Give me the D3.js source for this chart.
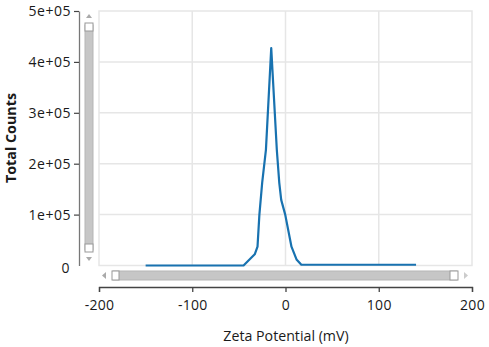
<!DOCTYPE html>
<html>
<head>
<meta charset="utf-8">
<script src="https://cdn.jsdelivr.net/npm/d3@7"></script>
<style>
  body { margin: 0; background: #fff; }
  text { font-family: "Open Sans", "Noto Sans", sans-serif; fill: #1a1a1a; }
</style>
</head>
<body>
<div id="content"></div>
<script>
// zeta potential distribution
const zeta = [-150, -45, -33, -30, -28, -25, -21, -15.3, -9.3, -6.7, -4.6, -0.3, 6.4, 11.8, 17, 140]
const counts = [0, 0, 22000, 37000, 100000, 163000, 227000, 427000, 227000, 163000, 129000, 100000, 37000, 12000, 1500, 1500]

const xTicks = [-200, -100, 0, 100, 200]
const xTickLabels = ["-200", "-100", "0", "100", "200"]
const yTicks = [0, 100000, 200000, 300000, 400000, 500000]
const yTickLabels = ["0", "1e+05", "2e+05", "3e+05", "4e+05", "5e+05"]

const data = zeta.map((z, i) => ({z: z, c: counts[i]}))

const outerWidth = 489
const outerHeight = 347

const svg = d3.select("#content").append("svg")
    .attr("width", outerWidth)
    .attr("height", outerHeight)

const xScale = d3.scaleLinear()
    .domain([-200, 200])
    .range([99, 472])
const yScale = d3.scaleLinear()
    .domain([0, 500000])
    .range([265.5, 11])

// plot box + grid
svg.append("rect")
    .attr("x", xScale(-200))
    .attr("y", yScale(500000))
    .attr("width", xScale(200) - xScale(-200))
    .attr("height", yScale(0) - yScale(500000))
    .attr("fill", "none")
    .attr("stroke", "#e6e6e6")
    .attr("stroke-width", 1.5)

svg.append("g").selectAll("line")
    .data(yTicks.slice(1, -1))
    .join("line")
    .attr("x1", xScale(-200))
    .attr("x2", xScale(200))
    .attr("y1", d => yScale(d))
    .attr("y2", d => yScale(d))
    .attr("stroke", "#e6e6e6")
    .attr("stroke-width", 1.5)

svg.append("g").selectAll("line")
    .data(xTicks.slice(1, -1))
    .join("line")
    .attr("x1", d => xScale(d))
    .attr("x2", d => xScale(d))
    .attr("y1", yScale(500000))
    .attr("y2", yScale(0))
    .attr("stroke", "#e6e6e6")
    .attr("stroke-width", 1.5)

// the curve
const line = d3.line()
    .x(d => xScale(d.z))
    .y(d => yScale(d.c))

svg.append("path")
    .datum(data)
    .attr("d", line)
    .attr("fill", "none")
    .attr("stroke", "#1872b0")
    .attr("stroke-width", 2.2)
    .attr("stroke-linejoin", "round")

// y axis (drawn left of the scrollbar)
const yAxis = d3.axisLeft(yScale)
    .tickValues(yTicks)
    .tickFormat((d, i) => yTickLabels[i])
    .tickSize(5)
    .tickSizeOuter(0)
    .tickPadding(3)
const yG = svg.append("g")
    .attr("transform", "translate(79, 0)")
    .call(yAxis)
yG.select(".domain").attr("stroke", "#777").attr("stroke-width", 1.3)
yG.selectAll(".tick line").attr("stroke", "#444").attr("stroke-width", 1.2)
    .attr("opacity", d => d === 0 ? 0 : 1)
yG.selectAll(".tick text")
    .style("font-size", "14px")
    .style("letter-spacing", "0.5px")
    .attr("fill", "#1a1a1a")
yG.selectAll(".tick text")
    .filter(d => d === 0)
    .attr("x", -9)
    .attr("dy", "0.5em")

// x axis (below the scrollbar)
const xAxis = d3.axisBottom(xScale)
    .tickValues(xTicks)
    .tickFormat((d, i) => xTickLabels[i])
    .tickSize(5)
    .tickPadding(8)
const xG = svg.append("g")
    .attr("transform", "translate(0, 287)")
    .call(xAxis)
xG.select(".domain").attr("stroke", "#444").attr("stroke-width", 1.3)
xG.selectAll(".tick line").attr("stroke", "#444").attr("stroke-width", 1.3)
xG.selectAll(".tick text")
    .style("font-size", "14px")
    .style("letter-spacing", "0.3px")
    .attr("fill", "#1a1a1a")

// vertical scrollbar
const vs = svg.append("g").attr("class", "vscroll")
vs.append("rect")
    .attr("x", 85).attr("y", 25).attr("width", 8).attr("height", 225)
    .attr("fill", "#c6c6c6").attr("stroke", "#b5b5b5")
vs.append("rect")
    .attr("x", 85).attr("y", 23).attr("width", 8).attr("height", 8)
    .attr("fill", "#fff").attr("stroke", "#999")
vs.append("rect")
    .attr("x", 85).attr("y", 244).attr("width", 8).attr("height", 8)
    .attr("fill", "#fff").attr("stroke", "#999")
vs.append("path")
    .attr("d", "M86,18 L89,14 L92,18 Z")
    .attr("fill", "#aaa")
vs.append("path")
    .attr("d", "M86,257 L89,261 L92,257 Z")
    .attr("fill", "#aaa")

// horizontal scrollbar
const hs = svg.append("g").attr("class", "hscroll")
hs.append("rect")
    .attr("x", 113).attr("y", 271).attr("width", 344).attr("height", 9)
    .attr("fill", "#c6c6c6").attr("stroke", "#b5b5b5")
hs.append("rect")
    .attr("x", 112).attr("y", 271).attr("width", 7).attr("height", 9)
    .attr("fill", "#fff").attr("stroke", "#999")
hs.append("rect")
    .attr("x", 450).attr("y", 271).attr("width", 8).attr("height", 9)
    .attr("fill", "#fff").attr("stroke", "#999")
hs.append("path")
    .attr("d", "M106,272 L102,275.5 L106,279 Z")
    .attr("fill", "#aaa")
hs.append("path")
    .attr("d", "M464,272 L468,275.5 L464,279 Z")
    .attr("fill", "#ccc")

// axis titles
svg.append("text")
    .attr("x", 286)
    .attr("y", 341)
    .style("text-anchor", "middle")
    .style("font-size", "14.2px")
    .text("Zeta Potential (mV)")

svg.append("text")
    .attr("transform", "rotate(-90)")
    .attr("x", -138)
    .attr("y", 16)
    .style("text-anchor", "middle")
    .style("font-size", "14.3px")
    .style("font-weight", "700")
    .text("Total Counts")
</script>
</body>
</html>
